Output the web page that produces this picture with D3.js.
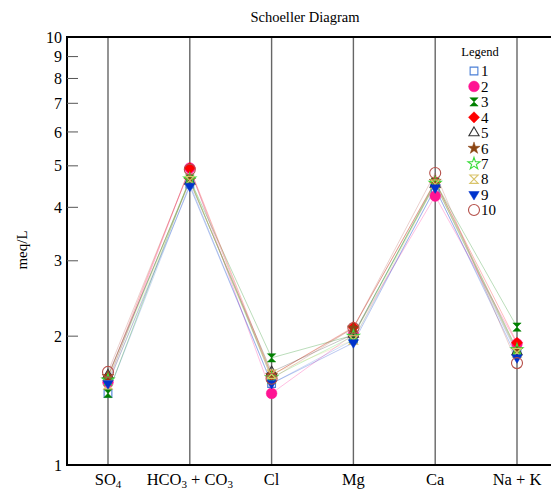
<!DOCTYPE html>
<html>
<head>
<meta charset="utf-8">
<script src="https://cdn.jsdelivr.net/npm/d3@7"></script>
<style>
  body { margin: 0; background: #fff; }
  svg { display: block; font-family: "Liberation Serif", "DejaVu Serif", serif; }
</style>
</head>
<body>
<div class="schoeller"></div>
<script>
const ions = ['SO4', 'HCO3 + CO3', 'Cl', 'Mg', 'Ca', 'Na + K'];
const yTicks = [1, 2, 3, 4, 5, 6, 7, 8, 9, 10];
const sampleNames = ['1', '2', '3', '4', '5', '6', '7', '8', '9', '10'];

// meq/L values per sample, in ion order
const sample1 = [1.47, 4.53, 1.55, 1.96, 4.42, 1.82];
const sample2 = [1.56, 4.94, 1.47, 2.02, 4.25, 1.92];
const sample3 = [1.47, 4.66, 1.78, 2.01, 4.58, 2.10];
const sample4 = [1.60, 4.94, 1.62, 2.10, 4.58, 1.93];
const sample5 = [1.62, 4.60, 1.65, 2.02, 4.53, 1.84];
const sample6 = [1.61, 4.63, 1.62, 2.09, 4.60, 1.86];
const sample7 = [1.58, 4.66, 1.60, 2.00, 4.55, 1.86];
const sample8 = [1.54, 4.62, 1.63, 1.96, 4.53, 1.83];
const sample9 = [1.55, 4.48, 1.55, 1.93, 4.44, 1.78];
const sample10 = [1.65, 4.90, 1.59, 2.09, 4.81, 1.73];
const allSamples = [sample1, sample2, sample3, sample4, sample5, sample6, sample7, sample8, sample9, sample10];

const width = 551, height = 492;
const margin = { top: 37, bottom: 27, left: 67 };

const svg = d3.select('.schoeller').append('svg')
    .attr('width', width)
    .attr('height', height);

const xScale = d3.scalePoint()
    .domain(ions)
    .range([108, 517])
    .padding(0);

const yScale = d3.scaleLog()
    .domain([1, 10])
    .range([height - margin.bottom, margin.top]);

const bottomY = height - margin.bottom;

// vertical ion lines
svg.selectAll('.ionline')
    .data(ions)
    .enter()
    .append('line')
    .attr('x1', d => xScale(d))
    .attr('x2', d => xScale(d))
    .attr('y1', margin.top)
    .attr('y2', bottomY)
    .attr('stroke', '#666')
    .attr('stroke-width', 1.4);

// frame: left, top, bottom
svg.append('line').attr('x1', margin.left).attr('x2', width).attr('y1', margin.top).attr('y2', margin.top)
    .attr('stroke', '#000').attr('stroke-width', 2);
svg.append('line').attr('x1', margin.left).attr('x2', width).attr('y1', bottomY).attr('y2', bottomY)
    .attr('stroke', '#000').attr('stroke-width', 2);
svg.append('line').attr('x1', margin.left).attr('x2', margin.left).attr('y1', margin.top - 1).attr('y2', bottomY + 1)
    .attr('stroke', '#000').attr('stroke-width', 2);

// y ticks (inside) and labels
svg.selectAll('.ytick')
    .data(yTicks.filter(d => d > 1 && d < 10))
    .enter()
    .append('line')
    .attr('x1', margin.left)
    .attr('x2', margin.left + 11)
    .attr('y1', d => yScale(d))
    .attr('y2', d => yScale(d))
    .attr('stroke', '#555')
    .attr('stroke-width', 1);

svg.selectAll('.ylabel')
    .data(yTicks)
    .enter()
    .append('text')
    .attr('x', margin.left - 5)
    .attr('y', d => yScale(d))
    .attr('dy', '0.35em')
    .attr('text-anchor', 'end')
    .style('font-size', '16px')
    .text(d => d);

svg.append('text')
    .attr('transform', 'rotate(-90)')
    .attr('x', -250)
    .attr('y', 27)
    .attr('text-anchor', 'middle')
    .style('font-size', '15px')
    .text('meq/L');

svg.append('text')
    .attr('x', 305)
    .attr('y', 22)
    .attr('text-anchor', 'middle')
    .style('font-size', '14.5px')
    .text('Schoeller Diagram');

// x labels with subscripts
const xLabelParts = {
    'SO4': [['SO', false], ['4', true]],
    'HCO3 + CO3': [['HCO', false], ['3', true], [' + CO', false], ['3', true]],
    'Cl': [['Cl', false]],
    'Mg': [['Mg', false]],
    'Ca': [['Ca', false]],
    'Na + K': [['Na + K', false]]
};
ions.forEach(ion => {
    const t = svg.append('text')
        .attr('x', xScale(ion))
        .attr('y', 485)
        .attr('text-anchor', 'middle')
        .style('font-size', '16.5px');
    xLabelParts[ion].forEach(([s, sub]) => {
        t.append('tspan')
            .attr('dy', sub ? 3 : (s.startsWith(' ') ? -3 : 0))
            .style('font-size', sub ? '11px' : '16.5px')
            .text(s);
    });
});

// series styles
const colors = ['#4a7fd6', '#ff1493', '#008000', '#ff0000', '#333333', '#8b4513', '#3ddc3d', '#d9c46a', '#0033cc', '#b5504a'];
const hourglass = { draw(ctx, size) { const r = Math.sqrt(size) / 2; ctx.moveTo(-r, -r); ctx.lineTo(r, -r); ctx.lineTo(-r, r); ctx.lineTo(r, r); ctx.closePath(); } };
const triDown = { draw(ctx, size) { const r = Math.sqrt(size) * 0.6; ctx.moveTo(-r, -r * 0.6); ctx.lineTo(r, -r * 0.6); ctx.lineTo(0, r * 1.05); ctx.closePath(); } };
const diamond = { draw(ctx, size) { const r = Math.sqrt(size) * 0.72; ctx.moveTo(0, -r); ctx.lineTo(r, 0); ctx.lineTo(0, r); ctx.lineTo(-r, 0); ctx.closePath(); } };
const markers = [
    { type: d3.symbolSquare, size: 60, filled: false },
    { type: d3.symbolCircle, size: 90, filled: true },
    { type: hourglass, size: 70, filled: true },
    { type: diamond, size: 60, filled: true },
    { type: d3.symbolTriangle, size: 45, filled: false },
    { type: d3.symbolStar, size: 45, filled: true },
    { type: d3.symbolStar, size: 45, filled: false },
    { type: hourglass, size: 70, filled: false },
    { type: triDown, size: 75, filled: true },
    { type: d3.symbolCircle, size: 95, filled: false }
];

const line = d3.line()
    .x((d, i) => xScale(ions[i]))
    .y(d => yScale(d));

svg.selectAll('.series')
    .data(allSamples)
    .enter()
    .append('path')
    .attr('d', line)
    .attr('fill', 'none')
    .attr('stroke', (d, i) => colors[i])
    .attr('stroke-opacity', 0.3)
    .attr('stroke-width', 0.9);

function drawMarker(g, i, x, y) {
    const m = markers[i];
    g.append('path')
        .attr('transform', `translate(${x},${y})`)
        .attr('d', d3.symbol().type(m.type).size(m.size)())
        .attr('fill', m.filled ? colors[i] : 'none')
        .attr('stroke', colors[i])
        .attr('stroke-width', m.filled ? 0.5 : 1.1);
}

const markerLayer = svg.append('g');
allSamples.forEach((vals, i) => {
    vals.forEach((v, j) => drawMarker(markerLayer, i, xScale(ions[j]), yScale(v)));
});

// legend
svg.append('text')
    .attr('x', 480)
    .attr('y', 56)
    .attr('text-anchor', 'middle')
    .style('font-size', '12.5px')
    .text('Legend');

const legend = svg.append('g');
sampleNames.forEach((name, i) => {
    const y = 71 + i * 15.45;
    drawMarker(legend, i, 474, y);
    legend.append('text')
        .attr('x', 481)
        .attr('y', y)
        .attr('dy', '0.35em')
        .style('font-size', '15px')
        .text(name);
});
</script>
</body>
</html>
